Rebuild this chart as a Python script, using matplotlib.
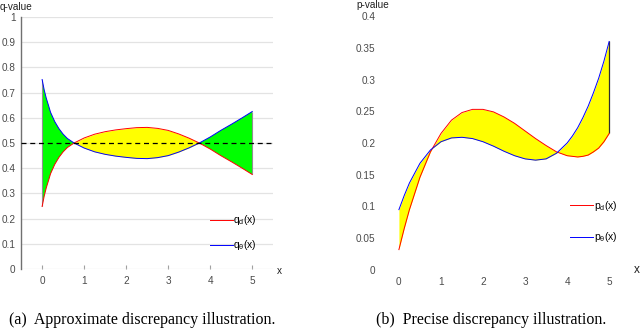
import numpy as np
import matplotlib.pyplot as plt

plt.rcParams['font.family'] = ['Liberation Sans', 'DejaVu Sans']
plt.rcParams['mathtext.fontset'] = 'custom'
plt.rcParams['mathtext.rm'] = 'Liberation Sans'
plt.rcParams['mathtext.default'] = 'regular'

# ---------------- (a) approximate discrepancy ----------------
xa = [0.0, 0.05, 0.1, 0.15, 0.2, 0.3, 0.4, 0.5, 0.6, 0.76,
      1.0, 1.25, 1.5, 1.75, 2.0, 2.25, 2.5, 2.75, 3.0, 3.25, 3.5, 3.74,
      4.0, 4.25, 4.5, 4.75, 5.0]
q_d = [0.248, 0.290, 0.323, 0.350, 0.378, 0.415, 0.443, 0.465, 0.482, 0.500,
       0.520, 0.535, 0.545, 0.552, 0.557, 0.561, 0.562, 0.558, 0.550, 0.536, 0.519, 0.500,
       0.476, 0.450, 0.426, 0.401, 0.375]
q_t = [0.752, 0.710, 0.677, 0.650, 0.622, 0.585, 0.557, 0.535, 0.518, 0.500,
       0.480, 0.465, 0.455, 0.448, 0.443, 0.439, 0.438, 0.442, 0.450, 0.464, 0.481, 0.500,
       0.524, 0.550, 0.574, 0.599, 0.625]

# ---------------- (b) precise discrepancy ----------------
xb = [0.0, 0.125, 0.25, 0.5, 0.75, 1.0, 1.25, 1.5, 1.75, 2.0, 2.25, 2.5,
      2.75, 3.0, 3.25, 3.5, 3.75, 4.0, 4.125, 4.25, 4.375, 4.5, 4.625, 4.75, 4.875, 5.0]
p_d = [0.032, 0.065, 0.095, 0.146, 0.186, 0.215, 0.236, 0.248, 0.253, 0.253, 0.249, 0.241,
       0.231, 0.219, 0.207, 0.196, 0.186, 0.180, 0.179, 0.178, 0.179, 0.181, 0.186, 0.192, 0.202, 0.215]
p_t = [0.095, 0.117, 0.137, 0.168, 0.189, 0.202, 0.208, 0.209, 0.207, 0.202, 0.195, 0.187,
       0.180, 0.175, 0.173, 0.175, 0.184, 0.200, 0.211, 0.224, 0.240, 0.258, 0.279, 0.302, 0.329, 0.360]

tick_col = '#4a4a4a'
grid_col = '#e3e3e3'
lab_size = 7.2

fig = plt.figure(figsize=(6.4, 3.28), dpi=100)

# ---------------- left panel ----------------
ax1 = fig.add_axes([0.033, 0.180, 0.394, 0.768])
xa_arr, qd_arr, qt_arr = np.array(xa), np.array(q_d), np.array(q_t)
ax1.fill_between(xa_arr, qd_arr, qt_arr, where=qt_arr >= qd_arr, interpolate=True,
                 color='#00ff00', lw=0, zorder=2)
ax1.fill_between(xa_arr, qd_arr, qt_arr, where=qd_arr >= qt_arr, interpolate=True,
                 color='#ffff00', lw=0, zorder=2)
ax1.vlines([xa[0], xa[-1]], [q_d[0], q_d[-1]], [q_t[0], q_t[-1]], colors='#909090', lw=0.8, zorder=3)
ax1.plot(xa, q_d, color='red', lw=0.7, label='q$_d$(x)', zorder=4)
ax1.plot(xa, q_t, color='blue', lw=0.7, label=r'q$_\theta$(x)', zorder=4)
ax1.axhline(0.5, color='black', ls=(0, (4, 3)), lw=0.9, zorder=5)
ax1.set_xlim(-0.5, 5.5)
ax1.set_ylim(0, 1)
ax1.set_xticks(range(6))
ax1.set_yticks(np.arange(0, 1.01, 0.1))
ax1.set_yticklabels(['0', '0.1', '0.2', '0.3', '0.4', '0.5', '0.6', '0.7', '0.8', '0.9', '1'])
ax1.set_xticks([0, 2, 3], minor=True)
ax1.grid(which='major', axis='y', color=grid_col, lw=0.9, zorder=0)
ax1.grid(which='minor', axis='x', color=grid_col, lw=0.9, zorder=0)
ax1.tick_params(axis='x', which='major', direction='in', length=3, color='#a0a0a0',
                labelsize=lab_size, labelcolor=tick_col, pad=5)
ax1.tick_params(axis='x', which='minor', length=0)
ax1.tick_params(axis='y', length=0, labelsize=lab_size, labelcolor=tick_col, pad=4)
for s in ['top', 'right', 'bottom']:
    ax1.spines[s].set_visible(False)
ax1.spines['left'].set_color('#707070')
ax1.spines['left'].set_linewidth(1.0)
fig.text(0.0, 0.978, 'q-value', ha='left', va='center', fontsize=lab_size, color='#202020')
fig.text(0.433, 0.174, 'x', ha='left', va='center', fontsize=lab_size, color='#202020')
ax1.legend(loc='lower left', bbox_to_anchor=(0.727, 0.045), frameon=False, fontsize=7.5,
           handlelength=2.2, handletextpad=0.05, labelspacing=1.05, borderpad=0)

# ---------------- right panel ----------------
ax2 = fig.add_axes([0.597, 0.177, 0.389, 0.774])
xb_arr, pd_arr, pt_arr = np.array(xb), np.array(p_d), np.array(p_t)
ax2.fill_between(xb_arr, pd_arr, pt_arr, color='#ffff00', lw=0, zorder=2)
ax2.vlines(xb[-1], p_d[-1], p_t[-1], colors='#303030', lw=0.9, zorder=3)
ax2.plot(xb, p_d, color='red', lw=0.7, label='p$_d$(x)', zorder=4)
ax2.plot(xb, p_t, color='blue', lw=0.7, label=r'p$_\theta$(x)', zorder=4)
ax2.set_xlim(-0.4, 5.52)
ax2.set_ylim(0, 0.4)
ax2.set_xticks(range(6))
ax2.set_yticks(np.arange(0, 0.401, 0.05))
ax2.set_yticklabels(['0', '0.05', '0.1', '0.15', '0.2', '0.25', '0.3', '0.35', '0.4'])
ax2.set_xticks([3, 4, 5], minor=True)
ax2.set_yticks([0.05, 0.2, 0.25, 0.3, 0.4], minor=True)
ax2.grid(which='minor', color=grid_col, lw=0.9, zorder=0)
ax2.tick_params(axis='x', which='major', length=0, labelsize=lab_size, labelcolor=tick_col, pad=5)
ax2.tick_params(axis='x', which='minor', direction='in', length=3, color='#a0a0a0')
ax2.tick_params(axis='y', which='major', length=0, labelsize=lab_size, labelcolor=tick_col, pad=5)
ax2.tick_params(axis='y', which='minor', direction='out', length=2, color='#707070', pad=2)
for s in ax2.spines.values():
    s.set_visible(False)
fig.text(0.583, 0.984, 'p-value', ha='center', va='center', fontsize=lab_size, color='#202020')
fig.text(0.991, 0.177, 'x', ha='left', va='center', fontsize=8.5, color='#202020')
ax2.legend(loc='lower left', bbox_to_anchor=(0.735, 0.08), frameon=False, fontsize=7.5,
           handlelength=2.2, handletextpad=0.05, labelspacing=1.7, borderpad=0)

# ---------------- captions ----------------
fig.text(0.222, 0.0, '(a)  Approximate discrepancy illustration.', ha='center', va='bottom',
         family='Liberation Serif', fontsize=11.5, color='black')
fig.text(0.768, 0.0, '(b)  Precise discrepancy illustration.', ha='center', va='bottom',
         family='Liberation Serif', fontsize=11.5, color='black')

fig.savefig('out.png', dpi=100)
